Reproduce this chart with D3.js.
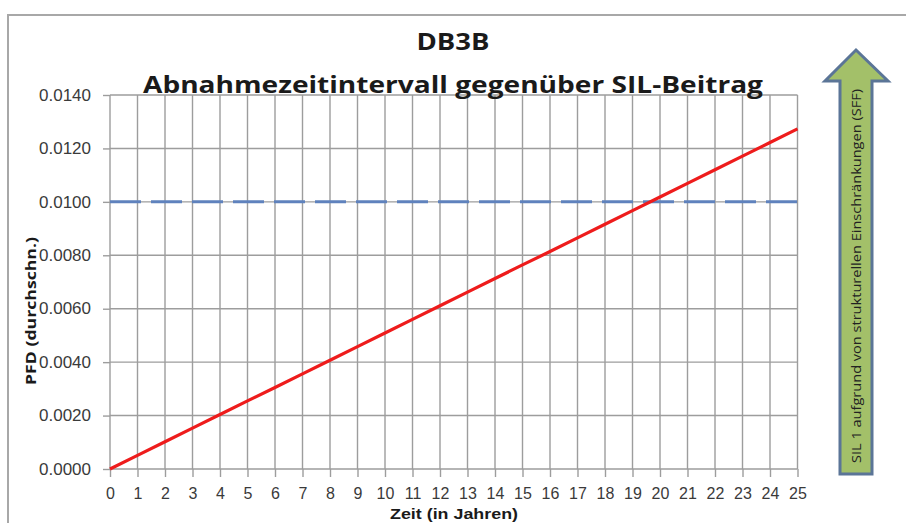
<!DOCTYPE html>
<html>
<head>
<meta charset="utf-8">
<script src="https://cdn.jsdelivr.net/npm/d3@7"></script>
<style>
  html, body { margin: 0; padding: 0; background: #ffffff; }
  svg { display: block; }
</style>
</head>
<body>
<svg id="chart" width="906" height="523"></svg>
<script>
// Proof-test interval (years) against averaged PFD
const years = [0, 1, 2, 3, 4, 5, 6, 7, 8, 9, 10, 11, 12, 13, 14, 15, 16, 17, 18, 19, 20, 21, 22, 23, 24, 25];
const pfdAvg = [0, 0.00051, 0.00102, 0.00153, 0.00204, 0.00255, 0.00305, 0.00356, 0.00407, 0.00458,
                0.00509, 0.00560, 0.00611, 0.00662, 0.00713, 0.00764, 0.00814, 0.00865, 0.00916, 0.00967,
                0.01018, 0.01069, 0.01120, 0.01171, 0.01222, 0.01273];
// SIL 2 / SIL 1 boundary
const silLimit = [0.0100, 0.0100];
const silLimitYears = [0, 25];
const yTicks = [0, 0.002, 0.004, 0.006, 0.008, 0.010, 0.012, 0.014];

const titleLines = ["DB3B", "Abnahmezeitintervall gegenüber SIL-Beitrag"];
const yTitle = "PFD (durchschn.)";
const xTitle = "Zeit (in Jahren)";
const arrowText = "SIL 1 aufgrund von strukturellen Einschränkungen (SFF)";

const svg = d3.select("#chart");
const plot = { left: 110, right: 797.5, top: 95, bottom: 469 };

const x = d3.scaleLinear().domain([0, 25]).range([plot.left, plot.right]);
const y = d3.scaleLinear().domain([0, 0.014]).range([plot.bottom, plot.top]);

// outer frame
svg.append("path")
  .attr("d", "M8,523 L8,15 L906,15")
  .attr("fill", "none")
  .attr("stroke", "#a8a8a8")
  .attr("stroke-width", 2);

const gridColor = "#9d9d9d";
const tickFont = "'Liberation Sans', Arial, sans-serif";

// vertical grid + x ticks
const xAxis = d3.axisBottom(x)
  .tickValues(years)
  .tickSize(8)
  .tickFormat(d3.format("d"));
const gx = svg.append("g")
  .attr("transform", `translate(0,${plot.bottom})`)
  .call(xAxis);
gx.select(".domain").remove();
gx.selectAll(".tick line").attr("stroke", gridColor).attr("stroke-width", 1.4);
gx.selectAll(".tick text")
  .attr("y", 19)
  .attr("fill", "#3a3a3a")
  .style("font-family", tickFont)
  .style("font-size", "16px");

svg.append("g").selectAll("line")
  .data(years)
  .join("line")
  .attr("x1", d => x(d)).attr("x2", d => x(d))
  .attr("y1", plot.top).attr("y2", plot.bottom)
  .attr("stroke", gridColor).attr("stroke-width", 1.4);

// horizontal grid + y ticks
const yAxis = d3.axisLeft(y)
  .tickValues(yTicks)
  .tickSize(7)
  .tickFormat(d3.format(".4f"));
const gy = svg.append("g")
  .attr("transform", `translate(${plot.left},0)`)
  .call(yAxis);
gy.select(".domain").remove();
gy.selectAll(".tick line").attr("stroke", gridColor).attr("stroke-width", 1.4);
gy.selectAll(".tick text")
  .attr("x", -19)
  .attr("fill", "#3a3a3a")
  .style("font-family", tickFont)
  .style("font-size", "16.5px")
  .attr("textLength", 52)
  .attr("lengthAdjust", "spacingAndGlyphs");

svg.append("g").selectAll("line")
  .data(yTicks)
  .join("line")
  .attr("x1", plot.left).attr("x2", plot.right)
  .attr("y1", d => y(d)).attr("y2", d => y(d))
  .attr("stroke", gridColor).attr("stroke-width", 1.4);

// SIL boundary (dashed)
const limitLine = d3.line()
  .x((d, i) => x(silLimitYears[i]))
  .y(d => y(d));
svg.append("path")
  .datum(silLimit)
  .attr("d", limitLine)
  .attr("fill", "none")
  .attr("stroke", "#5f82bd")
  .attr("stroke-width", 3)
  .attr("stroke-dasharray", "31,10");

// PFD curve
const pfdLine = d3.line()
  .x((d, i) => x(years[i]))
  .y(d => y(d));
svg.append("path")
  .datum(pfdAvg)
  .attr("d", pfdLine)
  .attr("fill", "none")
  .attr("stroke", "#ee1c1c")
  .attr("stroke-width", 3.2);

// titles
const titleFont = "'Open Sans', 'DejaVu Sans', sans-serif";
svg.append("text")
  .attr("x", 453).attr("y", 50)
  .attr("text-anchor", "middle")
  .attr("fill", "#1a1a1a")
  .style("font-family", titleFont)
  .style("font-weight", "bold")
  .style("font-size", "24px")
  .attr("textLength", 73)
  .attr("lengthAdjust", "spacingAndGlyphs")
  .text(titleLines[0]);
svg.append("text")
  .attr("x", 453).attr("y", 93)
  .attr("text-anchor", "middle")
  .attr("fill", "#1a1a1a")
  .style("font-family", titleFont)
  .style("font-weight", "bold")
  .style("font-size", "24px")
  .attr("textLength", 620)
  .attr("lengthAdjust", "spacingAndGlyphs")
  .text(titleLines[1]);

// axis titles
svg.append("text")
  .attr("transform", "translate(36,311) rotate(-90)")
  .attr("text-anchor", "middle")
  .attr("fill", "#1a1a1a")
  .style("font-family", titleFont)
  .style("font-weight", "bold")
  .style("font-size", "14px")
  .attr("textLength", 148)
  .attr("lengthAdjust", "spacingAndGlyphs")
  .text(yTitle);

svg.append("text")
  .attr("x", 454).attr("y", 519)
  .attr("text-anchor", "middle")
  .attr("fill", "#1a1a1a")
  .style("font-family", tickFont)
  .style("font-weight", "bold")
  .style("font-size", "14.5px")
  .attr("textLength", 128)
  .attr("lengthAdjust", "spacingAndGlyphs")
  .text(xTitle);

// SFF arrow
const ax = 856;
const arrowPath = `M${ax},50 L888,81 L872,81 L872,474 L840,474 L840,81 L825,81 Z`;
svg.append("path")
  .attr("d", arrowPath)
  .attr("fill", "#a3c069")
  .attr("stroke", "#5b7597")
  .attr("stroke-width", 3)
  .attr("stroke-linejoin", "miter");

svg.append("text")
  .attr("transform", `translate(${ax + 5},276) rotate(-90)`)
  .attr("text-anchor", "middle")
  .attr("fill", "#222")
  .style("font-family", titleFont)
  .style("font-size", "13px")
  .attr("textLength", 374)
  .attr("lengthAdjust", "spacingAndGlyphs")
  .text(arrowText);
</script>
</body>
</html>
